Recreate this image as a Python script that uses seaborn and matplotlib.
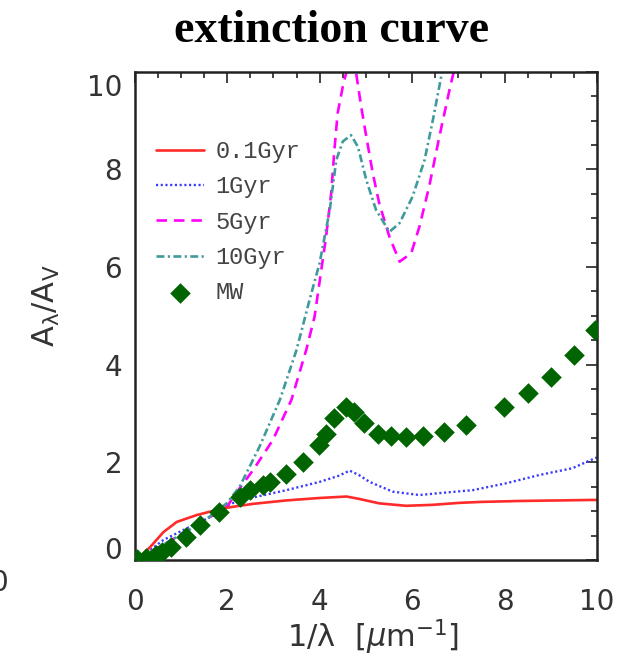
import matplotlib
matplotlib.use("Agg")
import matplotlib.pyplot as plt
from matplotlib.ticker import MultipleLocator
from matplotlib.transforms import ScaledTranslation
import seaborn as sns

# ---------------- data ----------------
x_01 = [0, 0.15, 0.33, 0.62, 0.91, 1.34, 1.63, 1.99, 2.56, 3.28, 4.0, 4.58, 4.86,
        5.29, 5.87, 6.45, 7.02, 7.5, 8.39, 9.2, 9.9, 10.0]
y_01 = [0, 0.09, 0.26, 0.57, 0.78, 0.92, 0.99, 1.07, 1.15, 1.22, 1.27, 1.30, 1.25,
        1.16, 1.11, 1.13, 1.17, 1.19, 1.21, 1.22, 1.23, 1.23]

x_1 = [0, 0.19, 0.62, 0.98, 1.41, 1.8, 2.06, 2.56, 3.28, 4.0, 4.4, 4.65, 4.85,
       5.08, 5.58, 6.16, 6.59, 7.31, 8.03, 8.75, 9.47, 9.9, 10.0]
y_1 = [0, 0.10, 0.41, 0.58, 0.78, 0.95, 1.15, 1.28, 1.43, 1.60, 1.72, 1.83, 1.74,
       1.60, 1.40, 1.33, 1.37, 1.43, 1.57, 1.74, 1.88, 2.06, 2.10]

x_5 = [0, 0.5, 1.0, 1.5, 2.0, 2.27, 2.56, 2.99, 3.39, 3.71, 3.89, 4.14, 4.25,
       4.32, 4.39, 4.50, 4.58, 4.68, 4.79, 4.90, 5.01, 5.15, 5.29, 5.51, 5.73,
       5.98, 6.16, 6.37, 6.59, 6.81, 7.0, 7.3]
y_5 = [0, 0.25, 0.52, 0.80, 1.10, 1.47, 1.84, 2.46, 3.28, 4.30, 4.98, 6.62, 7.51,
       8.40, 9.15, 9.69, 10.0, 10.6, 9.97, 9.28, 8.67, 7.92, 7.30, 6.62, 6.11,
       6.28, 6.83, 7.65, 8.67, 9.63, 10.4, 11.5]

x_10 = [0, 0.5, 1.0, 1.5, 1.99, 2.27, 2.70, 3.14, 3.50, 3.78, 4.0, 4.22, 4.36,
        4.50, 4.68, 4.83, 5.01, 5.22, 5.51, 5.73, 6.01, 6.27, 6.45, 6.63, 6.8, 7.1]
y_10 = [0, 0.25, 0.52, 0.80, 1.16, 1.50, 2.32, 3.28, 4.30, 5.32, 6.08, 7.17, 8.19,
        8.57, 8.70, 8.46, 7.78, 7.17, 6.72, 6.90, 7.44, 8.19, 9.01, 9.90, 10.7, 12.0]

x_mw = [0.05, 0.25, 0.45, 0.6, 0.78, 1.12, 1.41, 1.82, 2.27, 2.49, 2.78, 2.92,
        3.28, 3.64, 3.98, 4.14, 4.32, 4.56, 4.75, 4.97, 5.26, 5.55, 5.87, 6.23,
        6.70, 7.17, 7.99, 8.50, 9.0, 9.50, 9.95]
y_mw = [0.02, 0.05, 0.10, 0.16, 0.26, 0.48, 0.72, 0.99, 1.30, 1.43, 1.54, 1.60,
        1.77, 2.00, 2.36, 2.59, 2.90, 3.14, 3.04, 2.80, 2.59, 2.53, 2.51, 2.53,
        2.63, 2.76, 3.14, 3.43, 3.75, 4.20, 4.70]

labels = ["0.1Gyr", "1Gyr", "5Gyr", "10Gyr", "MW"]
xticks = [0, 2, 4, 6, 8, 10]
yticks = [0, 2, 4, 6, 8, 10]

# ---------------- figure ----------------
sns.set_theme(style="white")
plt.rcParams["font.family"] = ["DejaVu Sans"]
plt.rcParams["mathtext.fontset"] = "dejavusans"

fig = plt.figure(figsize=(6.24, 6.63), dpi=100)
ax = fig.add_axes([134.7 / 624, 1 - 560 / 663, (597 - 134.7) / 624, (560 - 71.7) / 663])

lw = 1.9
sns.lineplot(x=x_1, y=y_1, ax=ax, color="#3b3bff", lw=1.7, label=labels[1],
             estimator=None, sort=False)
sns.lineplot(x=x_5, y=y_5, ax=ax, color="#ff00ff", lw=lw, label=labels[2],
             estimator=None, sort=False)
sns.lineplot(x=x_10, y=y_10, ax=ax, color="#3f9a9a", lw=lw, label=labels[3],
             estimator=None, sort=False)
sns.lineplot(x=x_01, y=y_01, ax=ax, color="#ff2a2a", lw=lw, label=labels[0],
             estimator=None, sort=False)
ax.lines[0].set_dashes([0.9, 1.1])
ax.lines[1].set_dashes([4.0, 2.6])
ax.lines[2].set_dashes([3.0, 1.3, 0.8, 1.3])

sns.scatterplot(x=x_mw, y=y_mw, ax=ax, marker="D", s=110, color="#006400",
                edgecolor="#006400", linewidth=0, label=labels[4], zorder=5)

ax.set_xlim(0, 10)
ax.set_ylim(0, 10)
ax.set_xticks(xticks)
ax.set_yticks(yticks)
ax.xaxis.set_minor_locator(MultipleLocator(0.5))
ax.yaxis.set_minor_locator(MultipleLocator(0.5))
ax.tick_params(which="both", direction="in", top=True, right=True,
               color="#222222", width=1.2)
ax.tick_params(which="major", length=8)
ax.tick_params(which="minor", length=4)
ax.tick_params(axis="both", labelsize=20, labelcolor="#333333")
ax.tick_params(axis="x", pad=20)
ax.tick_params(axis="y", pad=9)
for sp in ax.spines.values():
    sp.set_linewidth(1.8)
    sp.set_color("#222222")

# IDL-style: end labels on the y axis are kept inside the axis span
ymaj = ax.yaxis.get_major_ticks()
ymaj[0].label1.set_transform(ymaj[0].label1.get_transform()
                             + ScaledTranslation(0, 12 / 100, fig.dpi_scale_trans))
ymaj[-1].label1.set_transform(ymaj[-1].label1.get_transform()
                              + ScaledTranslation(0, -13 / 100, fig.dpi_scale_trans))

ax.set_xlabel("1/λ  [$\\mu$m$^{-1}$]", fontsize=22, color="#333333")
ax.xaxis.set_label_coords(0.516, -0.118)
ax.set_ylabel(r"$\mathrm{A_\lambda/A_V}$", fontsize=22, color="#333333")
ax.yaxis.set_label_coords(-0.157, 0.52)

handles, labs = ax.get_legend_handles_labels()
order = [labs.index(l) for l in labels]
leg = ax.legend([handles[i] for i in order], [labs[i] for i in order],
                loc="upper left", bbox_to_anchor=(0.045, 0.86), frameon=False,
                prop={"family": "Liberation Mono", "size": 17},
                handlelength=2.05, handletextpad=0.5, labelspacing=0.52,
                borderaxespad=0, borderpad=0)
for t in leg.get_texts():
    t.set_color("#444444")

fig.text(331.7 / 624, 1 - 42 / 663, "extinction curve", ha="center", va="baseline",
         fontsize=33, fontweight="bold", family="Liberation Serif", color="black")
fig.text(-1.5 / 624, 1 - 583 / 663, "0", ha="center", va="center",
         fontsize=20, color="#333333")

fig.savefig("out.png", dpi=100)
